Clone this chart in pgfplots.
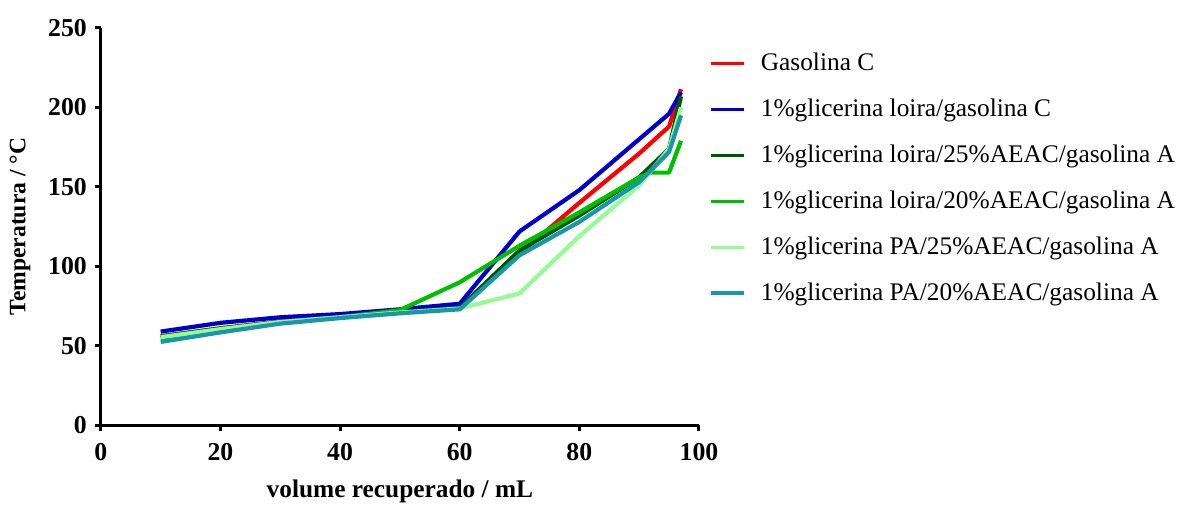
\documentclass[border=0pt]{standalone}
\usepackage{pgfplots}
\pgfplotsset{compat=1.18}
\usepackage{fontspec}
\setmainfont{Liberation Serif}

\definecolor{cGasC}{RGB}{255,0,0}
\definecolor{cLoiraC}{RGB}{0,0,205}
\definecolor{cLoira25}{RGB}{0,85,0}
\definecolor{cLoira20}{RGB}{0,190,0}
\definecolor{cPA25}{RGB}{150,250,150}
\definecolor{cPA20}{RGB}{25,150,170}

\begin{document}
\begin{tikzpicture}
\begin{axis}[
  name=ax,
  scale only axis,
  width=299.5pt, height=199pt,
  xmin=0, xmax=100, ymin=0, ymax=250,
  xtick={0,20,...,100}, ytick={0,50,...,250},
  axis x line*=bottom, axis y line*=left,
  axis line style={line width=1.5pt,-},
  tick style={line width=1.5pt,black},
  tick align=outside, major tick length=3pt,
  /pgf/number format/assume math mode=true,
  tick label style={font=\fontsize{12.9}{14}\selectfont\bfseries},
  xticklabel style={yshift=-2.5pt},
  yticklabel style={xshift=-0.5pt},
  xlabel={volume recuperado / mL},
  ylabel={Temperatura / °C},
  xlabel style={font=\fontsize{12.7}{14}\selectfont\bfseries,
    at={(axis description cs:0.5,-0.166)}, anchor=center},
  ylabel style={font=\fontsize{11.8}{14}\selectfont\bfseries,
    at={(axis description cs:-0.135,0.5)}, anchor=center},
  every axis plot/.append style={line width=2.1pt, line join=round},
  legend cell align=left,
  legend style={at={(axis description cs:1.018,0.947)}, anchor=north west,
    draw=none, fill=none, inner sep=0pt, outer sep=0pt,
    font=\fontsize{12.7}{14}\selectfont, row sep=8.7pt,
    /tikz/every odd column/.style={column sep=5.5pt}},
  legend image code/.code={\draw[#1, line width=1.6pt] (0pt,0pt) -- (16.5pt,0pt);},
]
\addplot[cGasC] coordinates {
  (10,56) (20,61) (30,65.5) (40,68) (50,71) (60,74) (70,108) (80,140) (90,171) (95,188) (97,211.5)};
\addlegendentry{Gasolina C}
\addplot[cLoiraC] coordinates {
  (10,59) (20,64.5) (30,68) (40,70) (50,73) (60,76.5) (70,122) (80,148) (90,180) (95,196) (97,209.5)};
\addlegendentry{1\%glicerina loira/gasolina C}
\addplot[cLoira25] coordinates {
  (10,56) (20,61) (30,65) (40,68) (50,71) (60,74) (70,110) (80,132) (90,156) (95,174) (97,207)};
\addlegendentry{1\%glicerina loira/25\%AEAC/gasolina A}
\addplot[cLoira20] coordinates {
  (10,55) (20,60.5) (30,65) (40,68) (50,72.5) (60,90) (70,113) (80,134) (90,156) (92,159) (95,159) (97,179)};
\addlegendentry{1\%glicerina loira/20\%AEAC/gasolina A}
\addplot[cPA25] coordinates {
  (10,55.5) (20,60.5) (30,65) (40,68) (50,71) (60,73.5) (70,83) (80,119) (90,151) (95,174) (97,200)};
\addlegendentry{1\%glicerina PA/25\%AEAC/gasolina A}
\addplot[cPA20] coordinates {
  (10,52.5) (20,58.5) (30,64) (40,67.5) (50,70.5) (60,73) (70,107) (80,128) (90,153) (95,172) (97,195)};
\addlegendentry{1\%glicerina PA/20\%AEAC/gasolina A}
\end{axis}
\path[use as bounding box] ([shift={(-50.5pt,-39.5pt)}]ax.south west) rectangle ([shift={(539pt,213pt)}]ax.south west);
\end{tikzpicture}
\end{document}
